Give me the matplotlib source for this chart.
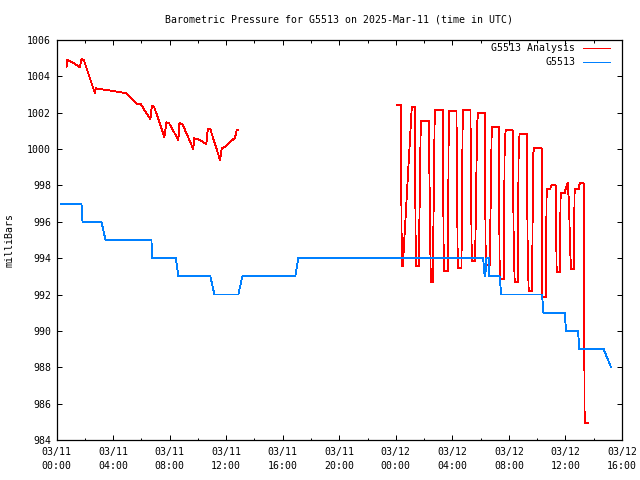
import matplotlib
matplotlib.use("Agg")
import matplotlib.pyplot as plt
import numpy as np

TITLE = "Barometric Pressure for G5513 on 2025-Mar-11 (time in UTC)"
Y_LABEL = "milliBars"
series_names = ["G5513 Analysis", "G5513"]
series_colors = ["#ff0000", "#0080ff"]

# hours since 2025-03-11 00:00 UTC
tick_hours = [0, 4, 8, 12, 16, 20, 24, 28, 32, 36, 40]
tick_labels = ["03/11\n00:00", "03/11\n04:00", "03/11\n08:00", "03/11\n12:00",
               "03/11\n16:00", "03/11\n20:00", "03/12\n00:00", "03/12\n04:00",
               "03/12\n08:00", "03/12\n12:00", "03/12\n16:00"]
y_ticks = [984, 986, 988, 990, 992, 994, 996, 998, 1000, 1002, 1004, 1006]

# Analysis series, first segment
analysis_hours_1 = [0.707, 0.756, 1.06, 1.654, 1.767, 1.936, 2.714, 2.784, 3.534, 4.24,
                    4.947, 5.654, 5.936, 6.643, 6.742, 6.905, 7.633, 7.774, 7.965, 8.622,
                    8.693, 8.905, 9.682, 9.731, 10.134, 10.6, 10.7, 10.883, 11.569, 11.69,
                    11.873, 12.629, 12.749, 12.862]
analysis_mb_1 = [1004.5, 1004.9, 1004.8, 1004.5, 1004.94, 1004.9, 1003.07, 1003.34, 1003.25, 1003.16,
                 1003.07, 1002.5, 1002.5, 1001.64, 1002.37, 1002.33, 1000.65, 1001.47, 1001.42, 1000.5,
                 1001.42, 1001.38, 999.99, 1000.6, 1000.5, 1000.28, 1001.09, 1001.09, 999.4, 1000.04,
                 1000.1, 1000.63, 1001.05, 1001.05]

# Analysis series, second segment
analysis_hours_2 = [24.049, 24.353, 24.424, 24.495, 25.131, 25.343, 25.413, 25.625, 25.767, 26.332,
                    26.473, 26.615, 26.756, 27.322, 27.392, 27.689, 27.746, 28.290, 28.382, 28.643,
                    28.735, 29.279, 29.371, 29.611, 29.753, 29.823, 30.290, 30.360, 30.643, 30.714,
                    30.785, 31.279, 31.350, 31.633, 31.703, 31.774, 32.269, 32.339, 32.410, 32.622,
                    32.693, 32.763, 33.258, 33.329, 33.399, 33.640, 33.710, 33.781, 34.318, 34.33,
                    34.601, 34.671, 34.912, 35.004, 35.307, 35.378, 35.590, 35.661, 35.943, 35.993,
                    36.064, 36.155, 36.254, 36.325, 36.396, 36.580, 36.650, 36.933, 36.961, 37.032,
                    37.286, 37.357, 37.569]
analysis_mb_2 = [1002.42, 1002.42, 993.55, 993.55, 1002.30, 1002.30, 993.55, 993.55, 1001.53, 1001.53,
                 992.69, 992.69, 1002.17, 1002.17, 993.28, 993.28, 1002.08, 1002.08, 993.46, 993.46,
                 1002.13, 1002.13, 993.86, 993.86, 1001.43, 1002.0, 1002.0, 993.62, 993.62, 997.2,
                 1001.2, 1001.2, 992.84, 992.84, 1000.50, 1001.03, 1001.03, 994.78, 992.67, 992.67,
                 1000.32, 1000.83, 1000.83, 994.34, 992.18, 992.18, 999.67, 1000.04, 1000.04, 991.85,
                 991.85, 997.79, 997.79, 998.01, 998.01, 993.22, 993.22, 997.57, 997.57, 997.75,
                 997.90, 998.15, 997.02, 994.58, 993.39, 993.39, 997.79, 997.79, 997.97, 998.12,
                 998.12, 984.95, 984.95]

# Observed station series
obs_hours = [0.3, 1.767, 1.837, 3.18, 3.463, 6.714, 6.784, 8.438, 8.622, 10.883,
             11.166, 12.862, 13.145, 16.89, 17.1, 30.177, 30.219, 30.283, 30.311, 30.339,
             30.367, 30.41, 30.572, 30.622, 31.35, 31.449, 34.346, 34.438, 35.943, 36.042,
             36.89, 36.982, 38.7, 39.223]
obs_mb = [997, 997, 996, 996, 995, 995, 994, 994, 993, 993,
          992, 992, 993, 993, 994, 994, 993.6, 993.0, 993.6, 993.0,
          993.6, 994, 994, 993, 993, 992, 992, 991, 991, 990,
          990, 989, 989, 988]

W, H = 640, 480
fig = plt.figure(figsize=(6.4, 4.8), dpi=100)
fig.patch.set_facecolor("white")
FONT = "DejaVu Sans Mono"
FS = 7.1

x0, x1, ytop, ybot = 56.5, 622.0, 40.0, 440.0
ax = fig.add_axes([x0 / W, 1 - ybot / H, (x1 - x0) / W, (ybot - ytop) / H])
lw = 0.6
ax.plot(analysis_hours_1, analysis_mb_1, color=series_colors[0], lw=lw, antialiased=False)
ax.plot(analysis_hours_2, analysis_mb_2, color=series_colors[0], lw=lw, antialiased=False)
ax.plot(obs_hours, obs_mb, color=series_colors[1], lw=lw, antialiased=False)

ax.set_xlim(0, 40)
ax.set_ylim(984, 1006)
ax.set_xticks(tick_hours)
ax.set_xticklabels(tick_labels, fontfamily=FONT, fontsize=FS)
ax.set_xticks(np.arange(0, 41, 2), minor=True)
ax.set_yticks(y_ticks)
ax.set_yticklabels([str(v) for v in y_ticks], fontfamily=FONT, fontsize=FS)
for lbl in ax.get_xticklabels():
    lbl.set_linespacing(1.45)
ax.tick_params(which="both", direction="in", top=True, right=True, width=0.72, colors="black")
ax.tick_params(which="major", length=3.6)
ax.tick_params(which="minor", length=1.8)
ax.tick_params(axis="x", which="major", pad=5)
ax.tick_params(axis="y", which="major", pad=4)
for s in ax.spines.values():
    s.set_linewidth(0.9)
    s.set_color("black")

fig.text(((x0 + x1) / 2) / W, 1 - 19 / H, TITLE, ha="center", va="center",
         fontfamily=FONT, fontsize=FS)
fig.text(10 / W, 1 - 240 / H, Y_LABEL, rotation=90, ha="center", va="center",
         fontfamily=FONT, fontsize=FS)

# legend (text right-aligned, then line sample), positioned in axes fraction
def ax_frac(px, py):
    return (px - x0) / (x1 - x0), (ybot - py) / (ybot - ytop)

for i, (name, col) in enumerate(zip(series_names, series_colors)):
    ypix = 48.5 + 14 * i
    tx, ty = ax_frac(575, ypix)
    ax.text(tx, ty, name, transform=ax.transAxes, ha="right", va="center",
            fontfamily=FONT, fontsize=FS)
    lx0, ly = ax_frac(583, ypix)
    lx1, _ = ax_frac(610, ypix)
    ax.plot([lx0, lx1], [ly, ly], transform=ax.transAxes, color=col, lw=lw,
            antialiased=False, clip_on=False)

fig.savefig("out.png", dpi=100, facecolor="white")
